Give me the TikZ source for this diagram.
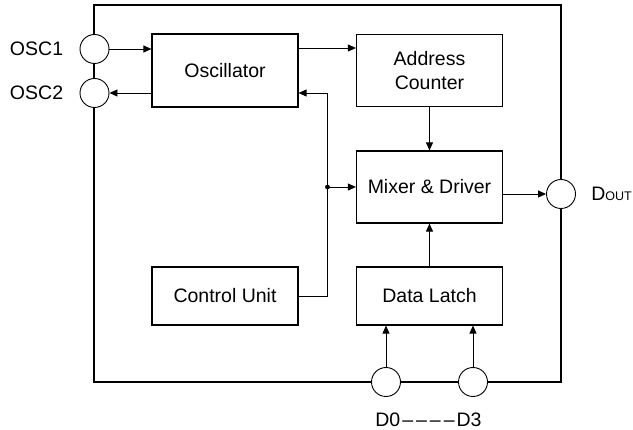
\documentclass[tikz,border=0pt]{standalone}
\usepackage{fontspec}
\setmainfont{Liberation Sans}
\usetikzlibrary{arrows.meta,positioning}

\tikzset{
  block/.style={draw,line width=1.2pt,minimum width=146pt,inner sep=0pt,align=center},
  pin/.style={draw,circle,fill=white,line width=0.9pt,minimum size=29pt,inner sep=0pt},
  tag/.style={inner sep=0pt},
  >={Triangle[length=8pt,width=7pt]}
}

\begin{document}
\begin{tikzpicture}[x=1pt,y=-1pt,line width=0.9pt,font=\fontsize{19.5}{23.5}\selectfont]
  \useasboundingbox (0,0) rectangle (633,430);
  % chip outline
  \draw[line width=2pt] (94,5) rectangle (561,382);
  % blocks
  \node[block,minimum height=73pt] (osc) at (225,70.5) {Oscillator};
  \node[block,minimum height=72pt] (addr) at (429.5,70.5) {Address\\Counter};
  \node[block,minimum height=72pt] (mix) at (429.5,187) {Mixer \& Driver};
  \node[block,minimum height=58pt] (ctrl) at (225,296) {Control Unit};
  \node[block,minimum height=58pt] (latch) at (429.5,296) {Data Latch};
  % pins
  \node[pin] (osc1) at (94.5,49) {};
  \node[pin] (osc2) at (94.5,93) {};
  \node[pin] (dout) at (561,194) {};
  \node[pin] (d0) at (386,382) {};
  \node[pin] (d3) at (473,382) {};
  \node[tag,left=16pt of osc1] {OSC1};
  \node[tag,left=16pt of osc2] {OSC2};
  \node[tag,right=15pt of dout] {D{\fontsize{12.5}{14}\selectfont OUT}};
  \node[tag] (dbus) at (428.5,420) {D0\kern2pt–\kern3pt–\kern3pt–\kern3pt–\kern2pt D3};
  % connections
  \coordinate (bus) at (327.5,187);
  \draw[->] (osc1.east) -- (osc1.east -| osc.west);
  \draw[->] (osc.west |- osc2) -- (osc2.east);
  \draw[->] (osc.east |- 0,48) -- (addr.west |- 0,48);
  \draw[->] (addr.south) -- (mix.north);
  \draw[->] (latch.north) -- (mix.south);
  \draw[->] (ctrl.east) -| (bus |- osc2) -- (osc.east |- osc2);
  \fill (bus) circle (2.4);
  \draw[->] (bus) -- (mix.west);
  \draw[->] (mix.east |- dout) -- (dout.west);
  \draw[->] (d0.north) -- (d0.north |- latch.south);
  \draw[->] (d3.north) -- (d3.north |- latch.south);
\end{tikzpicture}
\end{document}
